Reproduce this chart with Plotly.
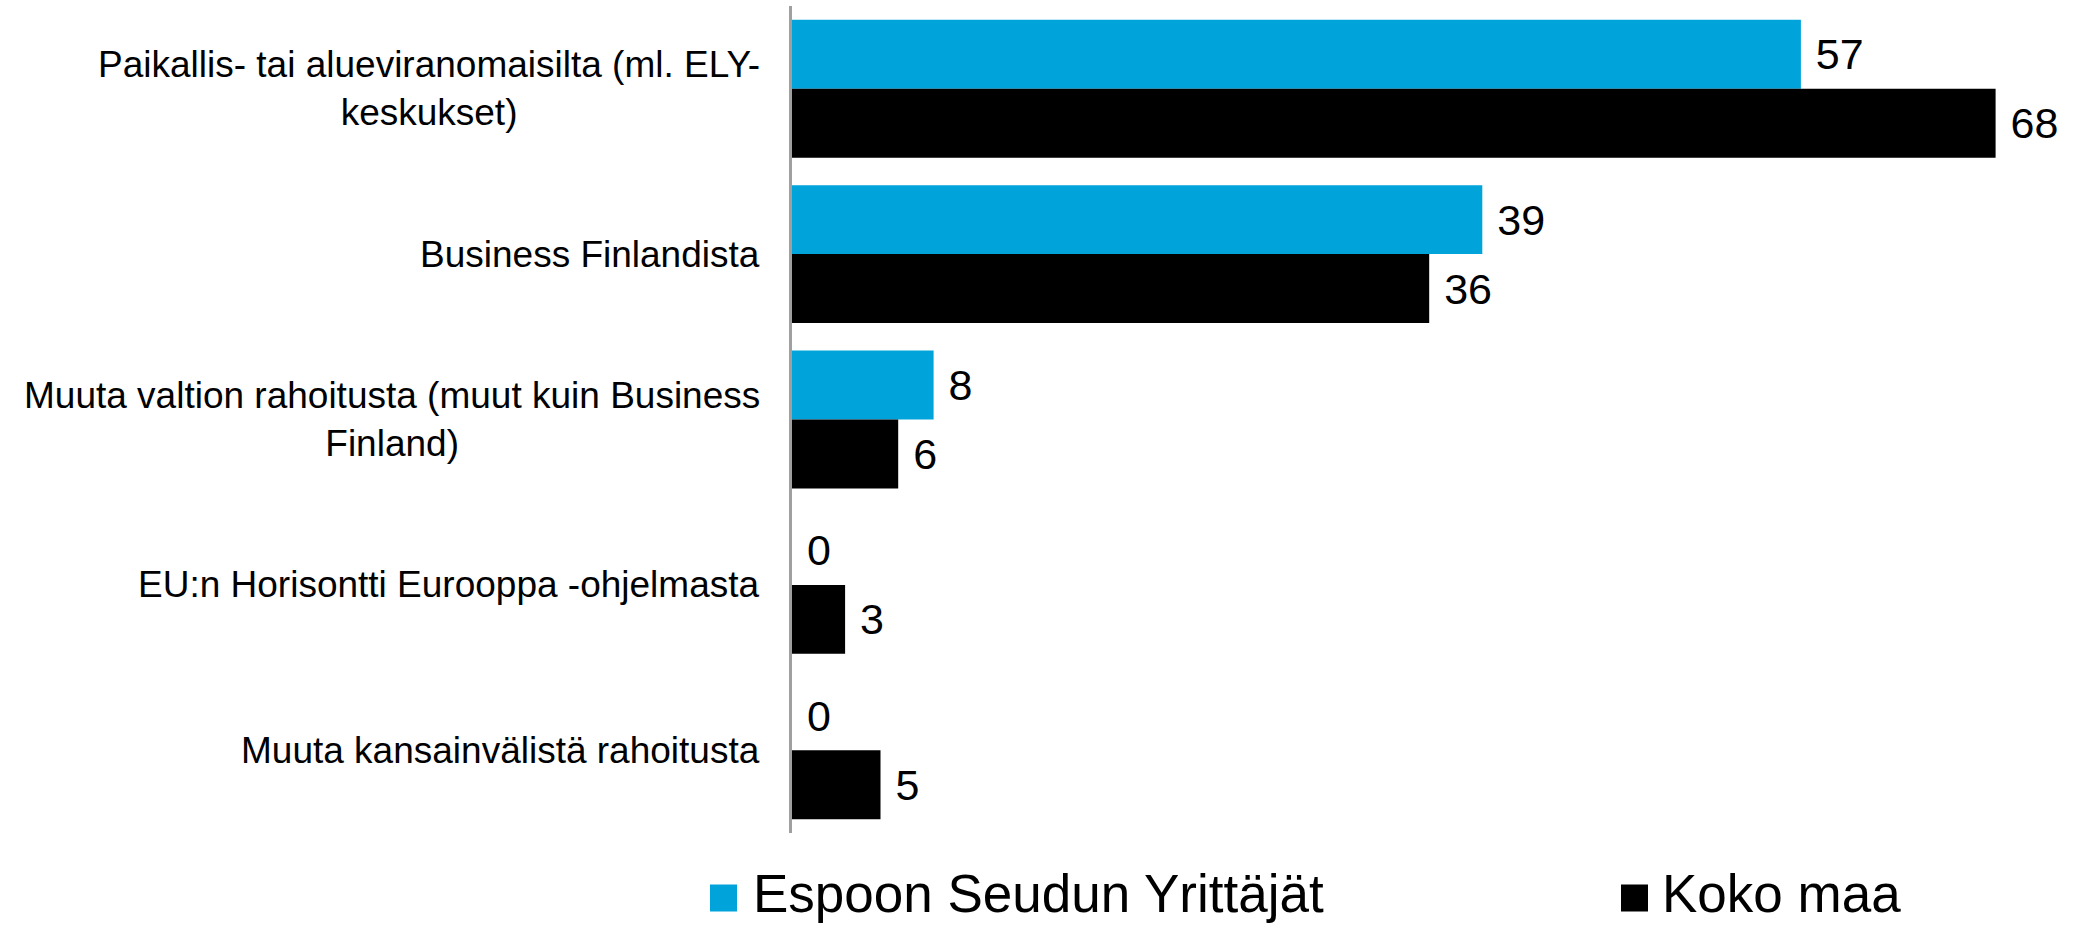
import plotly.graph_objects as go

categories = [
    "Paikallis- tai alueviranomaisilta (ml. ELY-<br>keskukset)",
    "Business Finlandista",
    "Muuta valtion rahoitusta (muut kuin Business<br>Finland)",
    "EU:n Horisontti Eurooppa -ohjelmasta",
    "Muuta kansainvälistä rahoitusta",
]
series_names = ["Espoon Seudun Yrittäjät", "Koko maa"]
espoo = [57, 39, 8, 0, 0]
koko = [68, 36, 6, 3, 5]
colors = ["#00A3DA", "#000000"]

FONT = "Arial, Liberation Sans, Arimo, sans-serif"
W, H = 2073, 925
L, R, T, B = 792, 42, 6, 92

fig = go.Figure()
for name, vals, col in zip(series_names, [espoo, koko], colors):
    fig.add_trace(go.Bar(
        y=categories, x=vals, name=name, orientation="h",
        marker=dict(color=col, line=dict(width=0)),
        text=vals, texttemplate="\u00a0%{x}", textposition="outside",
        textfont=dict(family=FONT, size=43, color="#000000"),
        cliponaxis=False, showlegend=False,
    ))

# category labels (right-aligned block, centered lines)
for c in categories:
    fig.add_annotation(
        x=0, xref="paper", y=c, yref="y", text=c, showarrow=False,
        xanchor="right", yanchor="middle", align="center", xshift=-30,
        font=dict(family=FONT, size=37, color="#000000"),
    )

# legend
plot_h = H - T - B
sq_y = 898
txt_y = 893
leg_items = [(710, 751), (1621, 1660)]
for (sq_x, tx_x), name, col in zip(leg_items, series_names, colors):
    fig.add_shape(
        type="rect", xref="paper", yref="paper",
        x0=(sq_x - L) / (W - L - R), x1=(sq_x + 27 - L) / (W - L - R),
        y0=(H - B - (sq_y + 13.5)) / plot_h, y1=(H - B - (sq_y - 13.5)) / plot_h,
        fillcolor=col, line=dict(width=0),
    )
    fig.add_annotation(
        x=(tx_x - L) / (W - L - R), xref="paper",
        y=(H - B - txt_y) / plot_h, yref="paper",
        text=name, showarrow=False, xanchor="left", yanchor="middle",
        font=dict(family=FONT, size=53, color="#000000"),
    )

fig.update_layout(
    width=W, height=H,
    margin=dict(l=L, r=R, t=T, b=B, pad=0),
    paper_bgcolor="white", plot_bgcolor="white",
    barmode="group", bargap=0.166, bargroupgap=0,
    showlegend=False,
    font=dict(family=FONT, color="#000000"),
)
fig.update_xaxes(range=[0, 70], visible=False, fixedrange=True)
fig.update_yaxes(
    autorange="reversed", showticklabels=False, ticks="",
    showline=True, linecolor="#A0A0A0", linewidth=2.5,
    showgrid=False, zeroline=False, fixedrange=True,
)

fig.write_html(
    "out.html",
    config={"displayModeBar": False},
    post_script="document.body.style.margin='0px';document.body.style.overflow='hidden';",
)
